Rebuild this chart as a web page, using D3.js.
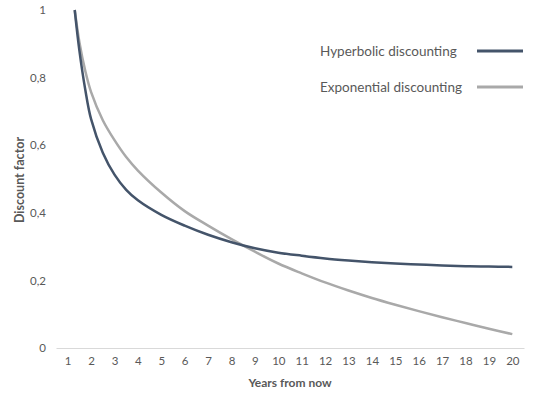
<!DOCTYPE html>
<html lang="en">
<head>
    <meta charset="UTF-8">
    <title>Discounting</title>
    <script src="https://cdn.jsdelivr.net/npm/d3@7/dist/d3.min.js"></script>
    <style>
        body { margin: 0; background: #fff; }
        text { font-family: Lato, "Open Sans", sans-serif; fill: #595959; }
    </style>
</head>
<body>
    <div class="chart"></div>
</body>
<script>
    const years = [1.3, 1.5, 1.75, 2, 2.5, 3, 3.5, 4, 5, 6, 7, 8, 9, 10, 11, 12, 13, 14, 15, 16, 17, 18, 19, 20]
    const hyperbolic = [1.0, 0.88, 0.765, 0.677, 0.578, 0.513, 0.468, 0.437, 0.394, 0.362, 0.335, 0.313, 0.295, 0.282, 0.273, 0.265, 0.259, 0.254, 0.25, 0.247, 0.244, 0.242, 0.241, 0.24]
    const exponential = [1.0, 0.905, 0.82, 0.757, 0.674, 0.615, 0.565, 0.525, 0.46, 0.405, 0.362, 0.322, 0.285, 0.25, 0.221, 0.194, 0.17, 0.148, 0.128, 0.109, 0.091, 0.074, 0.057, 0.041]
    // axis ticks
    const xTicks = d3.range(1, 21)
    const yTicks = [0, 0.2, 0.4, 0.6, 0.8, 1]
    const seriesNames = ['Hyperbolic discounting', 'Exponential discounting']
    const colors = ['#44546a', '#a9a9a9']

    const width = 535
    const height = 395
    const plot = { left: 56, right: 524, top: 10, bottom: 348 }

    const svg = d3.select('.chart')
        .append('svg')
        .attr('width', width)
        .attr('height', height)

    const xScale = d3.scaleLinear().domain([0.5, 20.5]).range([plot.left, plot.right])
    const yScale = d3.scaleLinear().domain([0, 1]).range([plot.bottom, plot.top])

    // x axis
    const xAxis = d3.axisBottom(xScale).tickValues(xTicks).tickSize(0).tickPadding(9).tickFormat(d3.format('d'))
    const gx = svg.append('g')
        .attr('transform', `translate(0, ${plot.bottom})`)
        .call(xAxis)
    gx.select('.domain').attr('stroke', '#d9d9d9').attr('stroke-width', 1)
    gx.selectAll('text').attr('font-size', 11.5).attr('fill', '#595959')

    // y axis, labels only
    const yAxis = d3.axisLeft(yScale).tickValues(yTicks).tickSize(0).tickPadding(10)
        .tickFormat((d) => String(d).replace('.', ','))
    const gy = svg.append('g')
        .attr('transform', `translate(${plot.left}, 0)`)
        .call(yAxis)
    gy.select('.domain').remove()
    gy.selectAll('text').attr('font-size', 11.5).attr('fill', '#595959')

    // axis titles
    svg.append('text')
        .attr('x', 290)
        .attr('y', 387)
        .attr('text-anchor', 'middle')
        .attr('font-size', 12)
        .attr('font-weight', 'bold')
        .text('Years from now')

    svg.append('text')
        .attr('transform', `translate(24, 180) rotate(-90)`)
        .attr('text-anchor', 'middle')
        .attr('font-size', 12.5)
        .attr('font-weight', 'bold')
        .text('Discount factor')

    // lines
    const line = d3.line()
        .x((d, i) => xScale(years[i]))
        .y((d) => yScale(d))
        .curve(d3.curveCatmullRom.alpha(0.5))

    svg.append('path')
        .datum(exponential)
        .attr('fill', 'none')
        .attr('stroke', colors[1])
        .attr('stroke-width', 2.5)
        .attr('d', line)

    svg.append('path')
        .datum(hyperbolic)
        .attr('fill', 'none')
        .attr('stroke', colors[0])
        .attr('stroke-width', 2.5)
        .attr('d', line)

    // legend
    const legend = svg.append('g')
    seriesNames.forEach((name, i) => {
        const y = 51 + i * 36
        legend.append('text')
            .attr('x', 320)
            .attr('y', y)
            .attr('dy', '0.35em')
            .attr('font-size', 13.5)
            .attr('fill', '#262626')
            .text(name)
        legend.append('line')
            .attr('x1', 477)
            .attr('x2', 523)
            .attr('y1', y)
            .attr('y2', y)
            .attr('stroke', colors[i])
            .attr('stroke-width', 3)
    })
</script>
</html>
